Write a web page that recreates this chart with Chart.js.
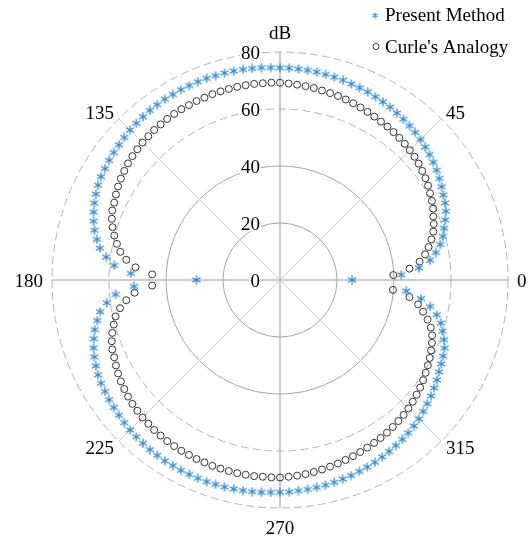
<!DOCTYPE html>
<html>
<head>
<meta charset="utf-8">
<script src="https://cdn.jsdelivr.net/npm/chart.js@4.4.1/dist/chart.umd.min.js"></script>
<style>
  html, body { margin: 0; padding: 0; background: #ffffff; }
  canvas { display: block; }
</style>
</head>
<body>
<canvas id="polar" width="530" height="540"></canvas>
<script>
// Directivity angles (degrees, counter-clockwise from the right-hand axis)
const angles = [
  0, 2.5, 5, 7.5, 10, 12.5, 15, 17.5, 20, 22.5, 25, 27.5,
  30, 32.5, 35, 37.5, 40, 42.5, 45, 47.5, 50, 52.5, 55, 57.5,
  60, 62.5, 65, 67.5, 70, 72.5, 75, 77.5, 80, 82.5, 85, 87.5,
  90, 92.5, 95, 97.5, 100, 102.5, 105, 107.5, 110, 112.5, 115, 117.5,
  120, 122.5, 125, 127.5, 130, 132.5, 135, 137.5, 140, 142.5, 145, 147.5,
  150, 152.5, 155, 157.5, 160, 162.5, 165, 167.5, 170, 172.5, 175, 177.5,
  180, 182.5, 185, 187.5, 190, 192.5, 195, 197.5, 200, 202.5, 205, 207.5,
  210, 212.5, 215, 217.5, 220, 222.5, 225, 227.5, 230, 232.5, 235, 237.5,
  240, 242.5, 245, 247.5, 250, 252.5, 255, 257.5, 260, 262.5, 265, 267.5,
  270, 272.5, 275, 277.5, 280, 282.5, 285, 287.5, 290, 292.5, 295, 297.5,
  300, 302.5, 305, 307.5, 310, 312.5, 315, 317.5, 320, 322.5, 325, 327.5,
  330, 332.5, 335, 337.5, 340, 342.5, 345, 347.5, 350, 352.5, 355, 357.5
];

// Sound pressure level, dB
const presentMethod = [
  25.3, 42.6, 48.9, 53.1, 55.5, 57.6, 59.2, 60.4, 61.7, 63.0, 63.9, 64.6,
  65.5, 66.3, 67.1, 67.8, 68.5, 69.1, 69.7, 70.2, 70.7, 71.1, 71.5, 71.9,
  72.2, 72.5, 72.8, 73.0, 73.2, 73.5, 73.7, 73.9, 74.1, 74.2, 74.3, 74.4,
  74.5, 74.6, 74.8, 74.9, 75.0, 75.1, 75.2, 75.2, 75.3, 75.3, 75.3, 75.3,
  75.2, 75.2, 75.1, 75.0, 74.8, 74.6, 74.4, 74.1, 73.8, 73.5, 73.2, 72.8,
  72.5, 72.0, 71.3, 70.5, 69.6, 68.6, 67.4, 65.8, 64.2, 61.5, 58.4, 52.4,
  29.3, 51.3, 57.9, 61.3, 64.1, 65.7, 67.3, 68.5, 69.6, 70.5, 71.3, 72.0,
  72.5, 72.8, 73.2, 73.5, 73.8, 74.1, 74.4, 74.6, 74.8, 75.0, 75.1, 75.2,
  75.2, 75.3, 75.3, 75.3, 75.3, 75.2, 75.2, 75.1, 75.0, 74.9, 74.8, 74.6,
  74.5, 74.4, 74.2, 74.1, 73.9, 73.7, 73.5, 73.2, 73.0, 72.7, 72.4, 72.1,
  71.7, 71.3, 70.9, 70.5, 70.0, 69.5, 68.9, 68.2, 67.5, 66.8, 66.0, 65.3,
  64.4, 63.8, 63.2, 62.5, 61.2, 59.8, 58.4, 56.3, 53.5, 49.9, 44.5, null
];

const curleAnalogy = [
  null, 39.8, 45.6, 49.4, 51.7, 53.4, 55.0, 56.4, 57.4, 58.2, 59.3, 60.1,
  60.8, 61.6, 62.3, 62.9, 63.5, 64.0, 64.4, 64.8, 65.1, 65.4, 65.7, 65.9,
  66.2, 66.5, 66.8, 67.1, 67.4, 67.7, 67.9, 68.1, 68.4, 68.6, 68.8, 69.0,
  69.2, 69.3, 69.3, 69.4, 69.4, 69.4, 69.4, 69.4, 69.4, 69.3, 69.3, 69.2,
  69.2, 69.1, 69.0, 68.8, 68.7, 68.4, 68.2, 67.9, 67.6, 67.2, 66.7, 66.2,
  65.6, 64.9, 64.2, 63.7, 62.8, 61.6, 60.2, 58.6, 56.9, 54.4, 50.9, 44.9,
  null, 44.9, 51.2, 54.4, 57.0, 59.1, 60.4, 61.7, 62.8, 63.7, 64.2, 64.9,
  65.6, 66.2, 66.7, 67.2, 67.6, 67.9, 68.2, 68.4, 68.7, 68.8, 69.0, 69.1,
  69.2, 69.2, 69.3, 69.3, 69.4, 69.4, 69.4, 69.4, 69.4, 69.4, 69.3, 69.3,
  69.3, 69.1, 68.9, 68.7, 68.4, 68.1, 67.8, 67.5, 67.2, 66.9, 66.6, 66.3,
  66.0, 65.7, 65.4, 65.0, 64.6, 64.2, 63.7, 63.2, 62.6, 62.0, 61.3, 60.6,
  59.9, 59.2, 58.5, 57.7, 56.8, 55.5, 53.6, 51.4, 49.2, 45.8, 39.8, null
];

const seriesNames = ['Present Method', "Curle's Analogy"];

// Radial axis (dB) ticks
const radialTicks = [0, 20, 40, 60, 80];
const radialTickLabels = ['0', '20', '40', '60', '80'];

// Angular labels; the vertical axis carries the unit instead of 90
const angleMarks = [0, 45, 90, 135, 180, 225, 270, 315];
const angleNames = ['0', '45', 'dB', '135', '180', '225', '270', '315'];

const FONT = '19px "Liberation Serif", "Times New Roman", serif';
const BLUE = '#2986d4';
const RING = '#333333';

// Radar charts run clockwise; reorder so angles run counter-clockwise from the right
const N = angles.length;
const order = angles.map((_, i) => (N - i) % N);
const slotOf = deg => (N - angles.indexOf(deg)) % N;
const slotAngle = i => angles[order[i]];

// Six-armed asterisk marker
function asterisk(size, color, lw) {
  const c = document.createElement('canvas');
  c.width = size; c.height = size;
  const g = c.getContext('2d');
  g.strokeStyle = color;
  g.lineWidth = lw;
  const m = size / 2, r = size / 2 - 0.4;
  for (let a = 0; a < 3; a++) {
    const t = Math.PI / 2 + a * Math.PI / 3;
    g.beginPath();
    g.moveTo(m + r * Math.cos(t), m + r * Math.sin(t));
    g.lineTo(m - r * Math.cos(t), m - r * Math.sin(t));
    g.stroke();
  }
  return c;
}
const starMark = asterisk(10, BLUE, 1.25);
const starKey = asterisk(7, BLUE, 1);

const polarText = {
  id: 'polarText',
  afterDraw(chart) {
    const s = chart.scales.r;
    const ctx = chart.ctx;
    ctx.save();
    ctx.font = FONT;
    ctx.textBaseline = 'alphabetic';

    // dB values beside the vertical axis
    ctx.textAlign = 'right';
    radialTicks.forEach((v, j) => {
      const txt = radialTickLabels[j];
      const y = s.yCenter - s.getDistanceFromCenterForValue(v);
      const m = ctx.measureText(txt);
      const h = m.actualBoundingBoxAscent;
      const xr = s.xCenter - 20;
      ctx.fillStyle = '#ffffff';
      ctx.fillRect(xr - m.width - 1, y - h / 2 - 2, m.width + 2, h + 4);
      ctx.fillStyle = '#000000';
      ctx.fillText(txt, xr, y + h / 2);
    });

    // angle labels around the rim
    ctx.fillStyle = '#000000';
    angleMarks.forEach((deg, j) => {
      const txt = angleNames[j];
      const idx = slotOf(deg);
      const h = ctx.measureText(txt).actualBoundingBoxAscent;
      let p;
      if (deg === 0 || deg === 180) {
        p = s.getPointPosition(idx, s.drawingArea + 9);
        ctx.textAlign = deg === 0 ? 'left' : 'right';
        ctx.fillText(txt, p.x, p.y + h / 2);
      } else if (deg === 90) {
        p = s.getPointPosition(idx, s.drawingArea + 13);
        ctx.textAlign = 'center';
        ctx.fillText(txt, p.x, p.y);
      } else if (deg === 270) {
        p = s.getPointPosition(idx, s.drawingArea + 13);
        ctx.textAlign = 'center';
        ctx.fillText(txt, p.x, p.y + h);
      } else {
        p = s.getPointPosition(idx, s.drawingArea + 4);
        const right = deg < 90 || deg > 270;
        const top = deg < 180;
        ctx.textAlign = right ? 'left' : 'right';
        const x = p.x + (right ? 2 : -2);
        const y = top ? p.y + 3 : p.y - 3 + h;
        ctx.fillText(txt, x, y);
      }
    });

    // key, top right
    const kx = 375, tx = 385;
    ctx.textAlign = 'left';
    ctx.drawImage(starKey, kx - starKey.width / 2, 15.5 - starKey.height / 2);
    ctx.fillText(seriesNames[0], tx, 21);
    ctx.beginPath();
    ctx.arc(kx + 1, 46.5, 3, 0, Math.PI * 2);
    ctx.strokeStyle = RING;
    ctx.lineWidth = 1;
    ctx.stroke();
    ctx.fillText(seriesNames[1], tx, 52.5);
    ctx.restore();
  }
};

const isAxis = i => slotAngle(i) % 90 === 0;
const isDiag = i => slotAngle(i) % 45 === 0 && !isAxis(i);

new Chart(document.getElementById('polar'), {
  type: 'radar',
  data: {
    labels: order.map(k => angles[k]),
    datasets: [
      {
        label: seriesNames[0],
        data: order.map(k => presentMethod[k]),
        showLine: false,
        borderWidth: 0,
        borderColor: 'rgba(0,0,0,0)',
        backgroundColor: 'rgba(0,0,0,0)',
        pointStyle: starMark,
        pointRadius: 4,
        pointHoverRadius: 4
      },
      {
        label: seriesNames[1],
        data: order.map(k => curleAnalogy[k]),
        showLine: false,
        borderWidth: 0,
        borderColor: 'rgba(0,0,0,0)',
        backgroundColor: 'rgba(0,0,0,0)',
        pointStyle: 'circle',
        pointRadius: 3.5,
        pointHoverRadius: 3.5,
        pointBorderColor: RING,
        pointBackgroundColor: 'rgba(0,0,0,0)',
        pointBorderWidth: 1
      }
    ]
  },
  options: {
    responsive: false,
    animation: false,
    events: [],
    devicePixelRatio: 1,
    layout: { padding: { left: 52, right: 22, top: 52, bottom: 32 } },
    plugins: {
      legend: { display: false },
      tooltip: { enabled: false }
    },
    scales: {
      r: {
        min: 0,
        max: 80,
        startAngle: 90,
        ticks: { display: false, stepSize: 20 },
        pointLabels: { display: false },
        grid: {
          circular: true,
          lineWidth: 1,
          color: c => (c.tick && c.tick.value >= 60) ? '#b3b3b3' : '#a3a3a3'
        },
        border: {
          dash: c => (c.tick && c.tick.value >= 60) ? [8, 4] : []
        },
        angleLines: {
          color: c => isAxis(c.index) ? '#999999' : '#cccccc',
          lineWidth: c => (isAxis(c.index) || isDiag(c.index)) ? 1 : 0
        }
      }
    }
  },
  plugins: [polarText]
});
</script>
</body>
</html>
